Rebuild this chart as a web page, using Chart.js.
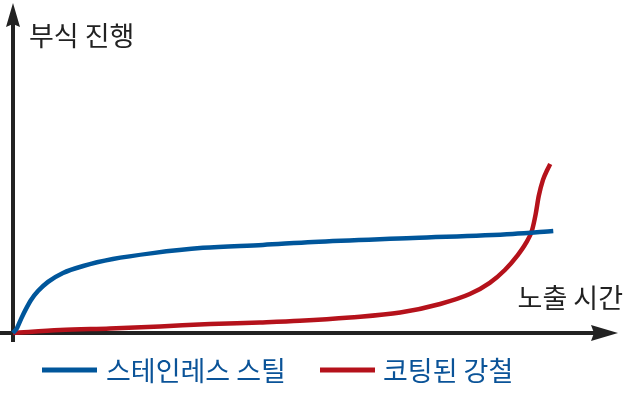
<!DOCTYPE html>
<html lang="ko">
<head>
  <meta charset="UTF-8">
  <title>부식 진행</title>
  <script src="https://cdn.jsdelivr.net/npm/chart.js"></script>
  <style>
    body { margin: 0; background: white; }
    #wrap { width: 632px; height: 403px; position: relative; }
  </style>
</head>
<body>
  <div id="wrap"><canvas id="grafico"></canvas></div>

  <script>
    // datos (tiempo 0..100, corrosión 0..100)
    const etiquetas = ["스테인레스 스틸", "코팅된 강철"];
    const colores = ["#00569b", "#b5121b"];

    const aceroX = [0, 0.66, 1.32, 2.15, 2.98, 4.13, 5.79, 8.26, 11.6, 16.5, 23.1, 31.4, 41.3, 49.6, 66.1, 82.6, 89.3];
    const aceroY = [0, 1.5, 4.2, 7.3, 10.0, 12.7, 15.5, 18.2, 20.3, 22.4, 24.2, 25.8, 26.7, 27.6, 28.8, 30.0, 30.9];

    const recubX = [0, 7.8, 16.0, 24.3, 32.6, 40.8, 47.4, 55.7, 64.0, 70.6, 75.5, 78.8, 81.3, 83.3, 84.8, 85.8, 86.4, 86.9, 87.6, 88.3, 88.8];
    const recubY = [0, 0.9, 1.4, 2.0, 2.7, 3.2, 3.7, 4.7, 6.2, 8.8, 11.8, 15.2, 19.1, 23.3, 27.3, 31.2, 36.1, 41.5, 46.4, 49.4, 51.2];

    const tituloY = "부식 진행";
    const tituloX = "노출 시간";
    const fuente = '"Noto Sans CJK KR", "Noto Sans", sans-serif';

    function puntos(xs, ys) {
      return xs.map((x, i) => ({ x: x, y: ys[i] }));
    }

    function flecha(ctx, x, y, dir) {
      ctx.beginPath();
      if (dir === "der") {
        ctx.moveTo(x, y);
        ctx.lineTo(x - 27, y - 8);
        ctx.lineTo(x - 24, y);
        ctx.lineTo(x - 27, y + 8);
      } else {
        ctx.moveTo(x, y);
        ctx.lineTo(x - 7, y + 24);
        ctx.lineTo(x, y + 21);
        ctx.lineTo(x + 7, y + 24);
      }
      ctx.closePath();
      ctx.fill();
    }

    const ejes = {
      id: "ejes",
      beforeDatasetsDraw(chart) {
        const ctx = chart.ctx;
        const xs = chart.scales.x, ys = chart.scales.y;
        const x0 = xs.getPixelForValue(0), y0 = ys.getPixelForValue(0);
        const xf = xs.getPixelForValue(100), yf = ys.getPixelForValue(100);
        ctx.save();
        ctx.strokeStyle = "#222";
        ctx.fillStyle = "#222";
        ctx.lineWidth = 4;
        ctx.beginPath();
        ctx.moveTo(0, y0);
        ctx.lineTo(xf - 20, y0);
        ctx.moveTo(x0, y0 + 9);
        ctx.lineTo(x0, yf + 20);
        ctx.stroke();
        flecha(ctx, xf, y0, "der");
        flecha(ctx, x0, yf, "arr");

        ctx.font = "27px " + fuente;
        ctx.textBaseline = "middle";
        ctx.textAlign = "left";
        ctx.fillText(tituloY, 29, 36);
        ctx.textAlign = "right";
        ctx.fillText(tituloX, 623, 298);
        ctx.restore();
      },
      afterDraw(chart) {
        const ctx = chart.ctx;
        const pos = [[42, 106], [320, 383]];
        ctx.save();
        ctx.font = "27px " + fuente;
        ctx.textBaseline = "middle";
        ctx.textAlign = "left";
        chart.data.datasets.forEach((ds, i) => {
          ctx.strokeStyle = ds.borderColor;
          ctx.lineWidth = 5;
          ctx.beginPath();
          ctx.moveTo(pos[i][0], 370);
          ctx.lineTo(pos[i][0] + 55, 370);
          ctx.stroke();
          ctx.fillStyle = "#0a5398";
          ctx.fillText(ds.label, pos[i][1], 371);
        });
        ctx.restore();
      }
    };

    new Chart(document.getElementById("grafico"), {
      type: "line",
      data: {
        datasets: [
          { label: etiquetas[0], data: puntos(aceroX, aceroY), borderColor: colores[0], borderWidth: 4.5, pointRadius: 0, cubicInterpolationMode: "monotone", clip: false, fill: false },
          { label: etiquetas[1], data: puntos(recubX, recubY), borderColor: colores[1], borderWidth: 4.5, pointRadius: 0, cubicInterpolationMode: "monotone", clip: false, fill: false }
        ]
      },
      options: {
        responsive: true,
        maintainAspectRatio: false,
        animation: false,
        layout: { padding: { left: 13, right: 14, top: 3, bottom: 70 } },
        plugins: { legend: { display: false }, tooltip: { enabled: false } },
        scales: {
          x: { type: "linear", min: 0, max: 100, display: false },
          y: { min: 0, max: 100, display: false }
        }
      },
      plugins: [ejes]
    });
  </script>
</body>
</html>
